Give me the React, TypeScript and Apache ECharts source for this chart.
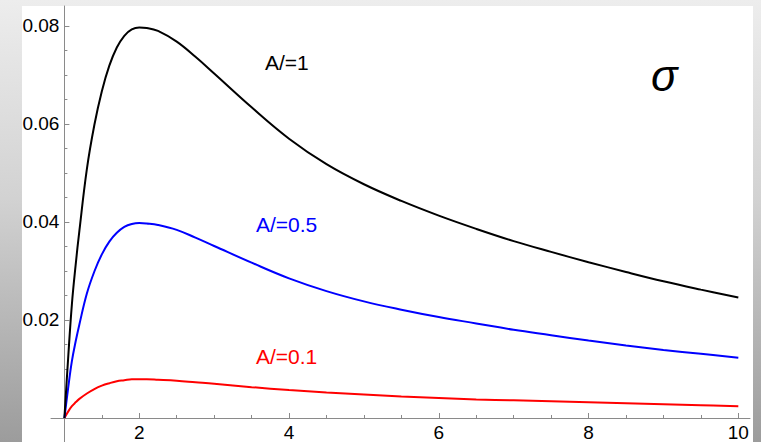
import React, { useEffect, useRef } from "react";
import * as echarts from "echarts";

// x values (real axis units)
const xs = [1, 1.05, 1.1, 1.15, 1.2, 1.3, 1.4, 1.5, 1.6, 1.7, 1.8, 1.9, 2, 2.1, 2.25, 2.5, 2.75, 3, 3.5, 4, 4.5, 5, 5.5, 6, 6.5, 7, 7.5, 8, 8.5, 9, 9.5, 10];
// A/=1 (black)
const blackVals = [0, 0.0122, 0.0232, 0.0312, 0.0382, 0.0508, 0.0598, 0.0667, 0.0719, 0.0756, 0.078, 0.0793, 0.0797, 0.0796, 0.079, 0.0768, 0.0737, 0.0703, 0.0634, 0.057, 0.0518, 0.0477, 0.0443, 0.0413, 0.0386, 0.0361, 0.0339, 0.0318, 0.0298, 0.0279, 0.0262, 0.0246];
// A/=0.5 (blue)
const blueVals = [0, 0.0061, 0.0116, 0.0156, 0.0191, 0.0254, 0.0299, 0.0334, 0.036, 0.0378, 0.039, 0.0396, 0.0398, 0.0397, 0.0394, 0.0384, 0.0368, 0.0351, 0.0317, 0.0285, 0.0259, 0.0238, 0.0221, 0.0206, 0.0193, 0.018, 0.0169, 0.0158, 0.0148, 0.0139, 0.0131, 0.0123];
// A/=0.1 (red)
const redVals = [0, 0.0013, 0.0024, 0.0032, 0.0039, 0.005, 0.0059, 0.0066, 0.0071, 0.0075, 0.0077, 0.0079, 0.0079, 0.0079, 0.0078, 0.0076, 0.0073, 0.007, 0.0063, 0.0057, 0.0052, 0.0048, 0.0044, 0.0041, 0.0038, 0.0036, 0.0034, 0.0032, 0.003, 0.0028, 0.0026, 0.0024];

const xMajorTicks = [2, 4, 6, 8, 10];
const yMajorTicks = [0.02, 0.04, 0.06, 0.08];
const curveLabels = ["A/=1", "A/=0.5", "A/=0.1"];
const curveColors = ["#000000", "#0000ff", "#ff0000"];
const symbolLabel = "σ";

const FONT = '"Liberation Sans", Arial, Helvetica, sans-serif';
const AXIS_COLOR = "#8a8a8a";

export default function App() {
  const ref = useRef<HTMLDivElement>(null);

  useEffect(() => {
    const chart = echarts.init(ref.current!, null, { renderer: "svg" });
    const shift = 1; // plot x - 1 so the y axis sits on x = 1
    const toU = (x: number) => x - shift;

    const xMinor: number[] = [];
    for (let k = 3; k <= 20; k++) {
      const x = k * 0.5;
      if (!xMajorTicks.includes(x)) xMinor.push(toU(x));
    }
    const yMinor: number[] = [];
    for (let k = 1; k <= 16; k++) {
      const y = Math.round(k * 5) / 1000;
      if (k % 4 !== 0) yMinor.push(y);
    }

    const xMin = -0.179;
    const xMax = 9.156;
    const yMin = -0.0049;
    const yMax = 0.08408;

    // outer box: whole plot range (axis lines cross at x=1, y=0)
    const outerBox = { left: 51, right: 11, top: 6, bottom: 0 };
    // inner box: from the crossing point (x=1, y=0) to the top-right
    const innerBox = { left: 64.4, right: 11, top: 6, bottom: 24 };

    const mk = (vals: number[]) => xs.map((x, i) => [toU(x), vals[i]]);
    const tickStyle = { color: AXIS_COLOR, width: 1 };

    const option: any = {
      animation: false,
      backgroundColor: "transparent",
      grid: [
        { ...innerBox, containLabel: false, outerBoundsMode: "none" },
        { ...outerBox, containLabel: false, outerBoundsMode: "none" },
      ],
      xAxis: [
        {
          type: "value",
          gridIndex: 0,
          min: 0,
          max: xMax,
          position: "bottom",
          axisLine: { show: false, onZero: false },
          axisTick: { show: true, inside: true, length: 5, customValues: xMajorTicks.map(toU), lineStyle: tickStyle },
          axisLabel: {
            show: true,
            customValues: xMajorTicks.map(toU),
            formatter: (v: number) => String(Math.round(v + shift)),
            color: "#000",
            fontSize: 19,
            fontFamily: FONT,
            margin: 5,
          },
          splitLine: { show: false },
        },
        {
          type: "value",
          gridIndex: 1,
          min: xMin,
          max: xMax,
          position: "bottom",
          axisLine: { show: true, onZero: true, onZeroAxisIndex: 1, lineStyle: tickStyle },
          axisTick: { show: true, inside: true, length: 3, customValues: xMinor, lineStyle: tickStyle },
          axisLabel: { show: false },
          splitLine: { show: false },
        },
      ],
      yAxis: [
        {
          type: "value",
          gridIndex: 0,
          min: 0,
          max: yMax,
          position: "left",
          axisLine: { show: false, onZero: false },
          axisTick: { show: true, inside: true, length: 5, customValues: yMajorTicks, lineStyle: tickStyle },
          axisLabel: {
            show: true,
            customValues: yMajorTicks,
            formatter: (v: number) => v.toFixed(2),
            color: "#000",
            fontSize: 19,
            fontFamily: FONT,
            margin: 5,
          },
          splitLine: { show: false },
        },
        {
          type: "value",
          gridIndex: 1,
          min: yMin,
          max: yMax,
          position: "left",
          axisLine: { show: true, onZero: true, onZeroAxisIndex: 1, lineStyle: tickStyle },
          axisTick: { show: true, inside: true, length: 3, customValues: yMinor, lineStyle: tickStyle },
          axisLabel: { show: false },
          splitLine: { show: false },
        },
      ],
      series: [blackVals, blueVals, redVals].map((vals, i) => ({
        type: "line",
        name: curveLabels[i],
        xAxisIndex: 0,
        yAxisIndex: 0,
        data: mk(vals),
        showSymbol: false,
        clip: false,
        smooth: 0.4,
        lineStyle: { color: curveColors[i], width: 2 },
        itemStyle: { color: curveColors[i] },
        z: 5 - i,
      })),
      graphic: [
        { type: "text", x: 265, y: 62, style: { text: curveLabels[0], fill: curveColors[0], fontSize: 21, fontFamily: FONT, verticalAlign: "middle" } },
        { type: "text", x: 256, y: 224, style: { text: curveLabels[1], fill: curveColors[1], fontSize: 21, fontFamily: FONT, verticalAlign: "middle" } },
        { type: "text", x: 256, y: 356, style: { text: curveLabels[2], fill: curveColors[2], fontSize: 21, fontFamily: FONT, verticalAlign: "middle" } },
        { type: "text", x: 651, y: 75, style: { text: symbolLabel, fill: "#000", fontSize: 44, fontStyle: "italic", fontFamily: FONT, verticalAlign: "middle" } },
      ],
    };

    chart.setOption(option);
    return () => chart.dispose();
  }, []);

  return (
    <div
      style={{
        position: "fixed",
        left: 0,
        top: 0,
        width: 761,
        height: 442,
        background: "linear-gradient(to bottom, #ededed 0%, #d2d2d2 45%, #9c9c9c 100%)",
        overflow: "hidden",
      }}
    >
      <div style={{ position: "absolute", left: 22, top: 6, width: 731, height: 436, background: "#ffffff" }} />
      <div ref={ref} style={{ position: "absolute", left: 0, top: 0, width: 761, height: 442 }} />
    </div>
  );
}
